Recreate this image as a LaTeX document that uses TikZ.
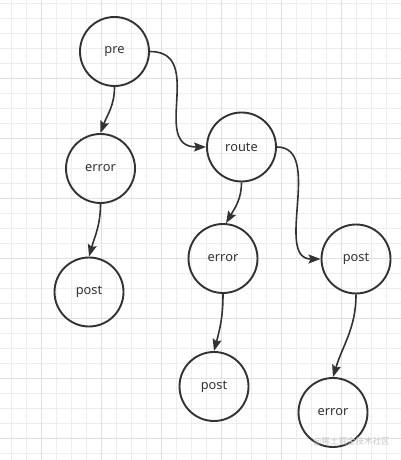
\documentclass[tikz,border=0pt]{standalone}
\usepackage{fontspec}
\setmainfont{Noto Sans}
\newfontfamily\cjkfont{Noto Sans CJK SC}
\usetikzlibrary{arrows.meta,positioning}
\definecolor{inkgray}{HTML}{333333}
\tikzset{
  minorgrid/.style={draw=gray!14,line width=0.8pt},
  majorgrid/.style={draw=gray!24,line width=0.8pt},
  state/.style={circle,draw=inkgray,line width=1.9pt,minimum size=69pt,inner sep=0pt,
    text=inkgray,font=\fontsize{12.8}{15}\selectfont},
  flow/.style={draw=inkgray,line width=1.6pt,-{Stealth[length=12pt,width=9pt,inset=2pt]}},
}

\begin{document}
\begin{tikzpicture}[x=1pt,y=1pt]
  \useasboundingbox (0,0) rectangle (401,460);
  \fill[white] (0,0) rectangle (401,460);
  \foreach \gx in {0,...,26} \draw[minorgrid] ({11.7+15*\gx},0) -- ++(0,460);
  \foreach \gy in {0,...,30} \draw[minorgrid] (0,{456.7-15*\gy}) -- ++(401,0);
  \foreach \gx in {0,...,6} \draw[majorgrid] ({41.7+60*\gx},0) -- ++(0,460);
  \foreach \gy in {0,...,6} \draw[majorgrid] (0,{381.7-60*\gy}) -- ++(401,0);

  \node[state] (pre)    at (114.5,408.5) {pre};
  \node[state] (error1) at (100.5,291.5) {error};
  \node[state] (post1)  at (89,168)      {post};
  \node[state] (route)  at (241.5,313)   {route};
  \node[state] (error2) at (223,201.5)   {error};
  \node[state] (post2)  at (356,201)     {post};
  \node[state] (post3)  at (214,73.5)    {post};
  \node[state] (error3) at (333,47.5)    {error};

  \draw[flow] (pre.south) to[out=-90,in=70] (error1.north);
  \draw[flow] (error1.south) to[out=-90,in=74] (post1.north);
  \draw[flow] (pre.east) to[out=0,in=180,looseness=1.3] (route.west);
  \draw[flow] (route.south) to[out=-90,in=60] (error2.85);
  \draw[flow] (route.east) to[out=0,in=180] (post2.west);
  \draw[flow] (error2.south) to[out=-90,in=75] (post3.north);
  \draw[flow] (post2.south) to[out=-90,in=73] (error3.north);

  \node[text=gray!45,font=\cjkfont\fontsize{8.5}{10}\selectfont] (mark) at (351.5,18.3) {@稀土掘金技术社区};
\end{tikzpicture}
\end{document}
